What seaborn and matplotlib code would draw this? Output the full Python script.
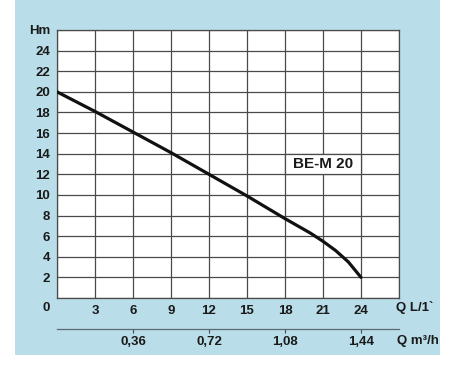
import matplotlib
matplotlib.use("Agg")
import matplotlib.pyplot as plt
import numpy as np
import pandas as pd
import seaborn as sns
from matplotlib.patches import Rectangle

# pump curve
q_lmin = [0, 3, 6, 9, 12, 15, 18, 20, 21, 22, 23, 24]
head_m = [20.0, 18.1, 16.1, 14.1, 12.0, 9.9, 7.7, 6.3, 5.5, 4.6, 3.5, 2.0]

x_ticks = [0, 3, 6, 9, 12, 15, 18, 21, 24, 27]
x_labels = ["", "3", "6", "9", "12", "15", "18", "21", "24", ""]
y_ticks = list(range(0, 28, 2))
y_labels = [""] + [str(v) for v in range(2, 26, 2)] + ["Hm"]
m3h_ticks = [0.36, 0.72, 1.08, 1.44]
m3h_labels = ["0,36", "0,72", "1,08", "1,44"]
model_name = "BE-M 20"

BLUE = "#b9dde9"
GRID = "#4a4a4a"
INK = "#1a1a1a"
FS = 9.5

sns.set_theme(style="white")
plt.rcParams["font.family"] = ["Liberation Sans", "DejaVu Sans"]
plt.rcParams["font.weight"] = "bold"

W, H = 459, 365
fig = plt.figure(figsize=(W / 100, H / 100), dpi=100, facecolor="white")
fig.patches.append(Rectangle((15 / W, 10 / H), 425 / W, 355 / H,
                             transform=fig.transFigure, facecolor=BLUE,
                             edgecolor="none", zorder=-10))

ax = fig.add_axes([57 / W, 67 / H, 342 / W, 268 / H])
ax.set_facecolor("white")

df = pd.DataFrame({"Q": q_lmin, "H": head_m})
sns.lineplot(data=df, x="Q", y="H", color="#111111", linewidth=2.3,
             ax=ax, zorder=5)
ax.lines[-1].set_solid_capstyle("round")
ax.lines[-1].set_solid_joinstyle("round")

ax.set_xlim(0, 27)
ax.set_ylim(0, 26)
ax.set_xticks(x_ticks)
ax.set_xticklabels(x_labels)
ax.set_yticks(y_ticks)
ax.set_yticklabels(y_labels)
ax.grid(True, color=GRID, linewidth=0.9)
ax.tick_params(axis="both", length=0, labelsize=FS, colors=INK)
ax.tick_params(axis="x", pad=5)
ax.tick_params(axis="y", pad=5)
for lab in ax.get_xticklabels() + ax.get_yticklabels():
    lab.set_fontweight("bold")
for s in ax.spines.values():
    s.set_color(GRID)
    s.set_linewidth(0.9)
ax.set_xlabel("")
ax.set_ylabel("")

# model label box over one grid cell
ax.add_patch(Rectangle((18, 12), 6, 2, facecolor="white", edgecolor=GRID,
                       linewidth=0.9, zorder=3))
ax.text(21, 13, model_name, ha="center", va="center", fontsize=11,
        fontweight="bold", color=INK, zorder=4)

ax.text(-0.02, -0.037, "0", transform=ax.transAxes, ha="right", va="center",
        fontsize=FS, fontweight="bold", color=INK)
ax.text(0.99, -0.037, "Q L/1`", transform=ax.transAxes, ha="left",
        va="center", fontsize=FS, fontweight="bold", color=INK)

sec = ax.secondary_xaxis(-0.116, functions=(lambda q: q * 0.06,
                                            lambda m: m / 0.06))
sec.set_xticks(m3h_ticks)
sec.set_xticklabels(m3h_labels)
sec.tick_params(axis="x", direction="out", length=3, width=0.8,
                color=GRID, labelsize=FS, labelcolor=INK, pad=2)
for lab in sec.get_xticklabels():
    lab.set_fontweight("bold")
sec.spines["bottom"].set_color("#5a6a70")
sec.spines["bottom"].set_linewidth(0.9)
ax.text(0.995, -0.16, "Q m³/h", transform=ax.transAxes, ha="left",
        va="center", fontsize=FS, fontweight="bold", color=INK)

fig.savefig("out.png", dpi=100, facecolor="white")
